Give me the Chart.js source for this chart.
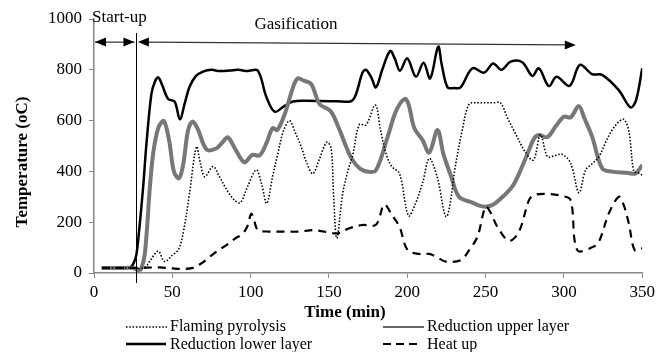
<!DOCTYPE html>
<html><head><meta charset="utf-8">
<script src="https://cdn.jsdelivr.net/npm/chart.js@4.4.1/dist/chart.umd.min.js"></script>
<style>html,body{margin:0;padding:0;background:#fff;}#wrap{width:659px;height:352px;}</style>
</head><body><div id="wrap"><canvas id="c" width="659" height="352"></canvas></div>
<script>
const xTickValues = [0,50,100,150,200,250,300,350];
const yTickValues = [0,200,400,600,800,1000];

const flamingT = [5,10,15,20,25,29.3,33,36,41,45,50,54,57,61,65.4,68,70.7,76,80,85.5,90,93.5,98,103.6,107,110.3,114,117.4,121,124.8,128,132.3,136,139.7,144,148.6,151.4,153,155,158.8,162,165.2,169.4,173.7,179.6,183,186.4,190,195,200.8,205,210,214,219,225,231,235,239.5,245,250,255,259.5,264,269,275,280.5,285,289.5,294,299,304.3,309.6,313.8,318,322.3,327,330.8,335,338.2,341.4,344.6,347,350];
const flamingV = [20,20,20,20,20,18,25,50,86,45,70,93,160,314,497,430,379,419,380,320,285,277,340,406,350,274,380,471,560,600,560,497,430,391,450,515,490,300,137,314,400,465,585,583,661,560,471,420,392,225,270,360,451,380,222,432,560,665,670,670,670,670,610,550,480,445,545,458,462,467,432,316,405,430,458,520,563,595,605,560,399,395,386];

const upperT = [5,10,15,20,25,28,30,32.5,35.7,37.8,41,44.6,48,51,54.3,57,60,62.9,66,71.8,78,82,85.5,90,96,101,105.7,110,114,117,122,127,130,134,138.7,144,151,156,161,165,170,175,180,187.5,193,198.5,201,204.5,209.7,214,219.3,223,228,233,241.6,246,250,255,260,267,272,277.7,281,284,289.4,295,300,304.3,309.5,313,318,324.4,330.8,340,345.7,350];
const upperV = [20,20,20,20,20,12,15,78,340,471,570,598,520,400,373,430,560,596,570,487,490,515,534,490,436,465,463,510,570,563,630,730,766,757,744,665,638,575,497,445,410,399,404,537,640,686,660,570,524,474,563,470,380,300,277,265,261,270,295,340,400,484,530,543,535,580,615,613,657,610,537,412,399,395,392,425];

const lowerT = [5,10,15,20,23,25,27,29,31.4,33.5,36.7,39,41,43.5,47.3,51.5,54.8,58,61,65,69.6,75,80,86.6,92,98,104.5,110,115.3,121,127,135,145,155,164,167,171.5,173.7,177,180,184,189,192,195.3,200,205.5,210.4,214.6,219.7,222,225.7,230,234,241.6,249,254.8,260,266,273.4,279.8,284,290.4,295.3,303.6,310.2,318,324.4,335,342.5,346,350];
const lowerV = [20,20,20,20,22,35,70,180,340,510,707,755,770,740,685,675,605,670,733,775,793,800,795,797,800,795,797,694,635,655,675,678,677,676,676,700,790,800,770,731,800,874,845,796,845,773,828,766,891,820,731,728,731,806,789,825,800,832,830,776,806,736,773,737,819,783,780,720,652,680,806];

const heatT = [5,10,20,30,33.5,42,50,55,63,69,74,79,84.5,90,95,98,100.4,102.5,104.7,112,120,131,139.7,145,150,155.6,163,171.5,180,185.3,190,195,200.2,207.6,214,219,224.6,234.2,239.5,244.8,250,253,257.5,265,271.3,277.7,280.9,290.4,299,304.3,308.5,318,322.3,328.7,335,338,341.4,345.2,350];
const heatV = [20,20,20,20,21,22,18,16,20,40,64,88,110,135,156,185,233,200,169,163,163,163,169,165,160,156,176,189,190,270,230,182,90,75,75,62,45,51,90,143,261,240,182,127,163,287,307,311,303,287,90,101,123,235,300,270,196,90,97];

const legendLabels = ['Flaming pyrolysis','Reduction upper layer','Reduction lower layer','Heat up'];
const startupEnd = 26.7;

function pts(t,v){return t.map((x,i)=>({x:x,y:v[i]}));}
const SERIF = "Liberation Serif";
Chart.defaults.font.family = SERIF;
Chart.defaults.font.size = 17;
Chart.defaults.color = '#000';

const annot = {
  id:'annot',
  afterDraw(chart){
    const {ctx, scales:{x,y}} = chart;
    ctx.save();
    const vx = Math.round(x.getPixelForValue(startupEnd))+0.5;
    ctx.strokeStyle='#000'; ctx.lineWidth=1;
    ctx.beginPath(); ctx.moveTo(vx, y.getPixelForValue(945)); ctx.lineTo(vx, y.bottom+10); ctx.stroke();
    function head(xt,yt,dir,color){
      ctx.fillStyle=color; ctx.beginPath();
      ctx.moveTo(xt,yt); ctx.lineTo(xt-dir*11,yt-4.5); ctx.lineTo(xt-dir*11,yt+4.5); ctx.closePath(); ctx.fill();
    }
    const ay = y.getPixelForValue(909);
    const sx1 = x.getPixelForValue(0)+1, sx2 = x.getPixelForValue(25.8);
    ctx.beginPath(); ctx.moveTo(sx1,ay); ctx.lineTo(sx2,ay); ctx.stroke();
    head(sx1,ay,-1,'#000'); head(sx2,ay,1,'#000');
    const gx1 = x.getPixelForValue(28), gx2 = x.getPixelForValue(307.6);
    const gy2 = y.getPixelForValue(898);
    ctx.strokeStyle='#333'; ctx.lineWidth=1.2;
    ctx.beginPath(); ctx.moveTo(gx1+8,ay); ctx.lineTo(gx2-8,gy2); ctx.stroke();
    head(gx1,ay,-1,'#000'); head(gx2,gy2,1,'#000');
    ctx.fillStyle='#000'; ctx.font='17px "Liberation Serif"'; ctx.textBaseline='middle';
    ctx.textAlign='left'; ctx.fillText('Start-up', 92, 18);
    ctx.textAlign='center'; ctx.fillText('Gasification', 296, 25);
    ctx.font='bold 17px "Liberation Serif"';
    ctx.fillText('Time (min)', 345, 313);
    ctx.save(); ctx.translate(23,162); ctx.rotate(-Math.PI/2); ctx.fillText('Temperature (oC)',0,0); ctx.restore();
    ctx.font='16px "Liberation Serif"'; ctx.textAlign='left';
    function seg(x1,x2,yy,w,color,dash){ctx.setLineDash(dash||[]);ctx.strokeStyle=color;ctx.lineWidth=w;ctx.beginPath();ctx.moveTo(x1,yy);ctx.lineTo(x2,yy);ctx.stroke();ctx.setLineDash([]);}
    seg(126,167,327,1.6,'#000',[1.5,1.8]);
    ctx.fillText(legendLabels[0],170,327);
    seg(383,424,327,2.2,'#666');
    ctx.fillText(legendLabels[1],427,327);
    seg(126,166,344,2.5,'#000');
    ctx.fillText(legendLabels[2],170,345);
    seg(383,420,344,2.2,'#000',[8,5]);
    ctx.fillText(legendLabels[3],427,345);
    ctx.restore();
  }
};

const common = {pointRadius:0, fill:false, tension:0.35, borderCapStyle:'butt'};
const tickFont = {family:SERIF, size:17};
new Chart(document.getElementById('c'),{
  type:'line',
  data:{datasets:[
    Object.assign({label:legendLabels[3], data:pts(heatT,heatV), borderColor:'#000', borderWidth:2.2, borderDash:[8,6]},common),
    Object.assign({label:legendLabels[0], data:pts(flamingT,flamingV), borderColor:'#000', borderWidth:1.6, borderDash:[1.5,1.8]},common),
    Object.assign({label:legendLabels[1], data:pts(upperT,upperV), borderColor:'#777777', borderWidth:4},common),
    Object.assign({label:legendLabels[1]+' core', data:pts(upperT,upperV), borderColor:'#e0e0e0', borderWidth:1.5},common),
    Object.assign({label:legendLabels[2], data:pts(lowerT,lowerV), borderColor:'#000', borderWidth:2.5},common)
  ]},
  options:{
    responsive:false, animation:false, devicePixelRatio:1,
    layout:{padding:{left:0,right:16,top:19,bottom:0}},
    plugins:{legend:{display:false}, tooltip:{enabled:false}},
    scales:{
      x:{type:'linear', min:0, max:350,
        afterBuildTicks:(s)=>{s.ticks = xTickValues.map(v=>({value:v}));},
        afterFit:(s)=>{s.height=79;},
        ticks:{font:tickFont, color:'#000', padding:4, maxRotation:0, callback:(v)=>String(v)},
        grid:{display:true, drawOnChartArea:false, drawTicks:true, tickLength:5, color:'#868686'},
        border:{display:true, color:'#868686', width:1.5}
      },
      y:{type:'linear', min:0, max:1000,
        afterBuildTicks:(s)=>{s.ticks = yTickValues.map(v=>({value:v}));},
        afterFit:(s)=>{s.width=94;},
        ticks:{font:tickFont, color:'#000', padding:7, callback:(v)=>String(v)},
        grid:{display:true, drawOnChartArea:false, drawTicks:true, tickLength:5, color:'#868686'},
        border:{display:true, color:'#868686', width:1.5}
      }
    }
  },
  plugins:[annot]
});
</script></body></html>
